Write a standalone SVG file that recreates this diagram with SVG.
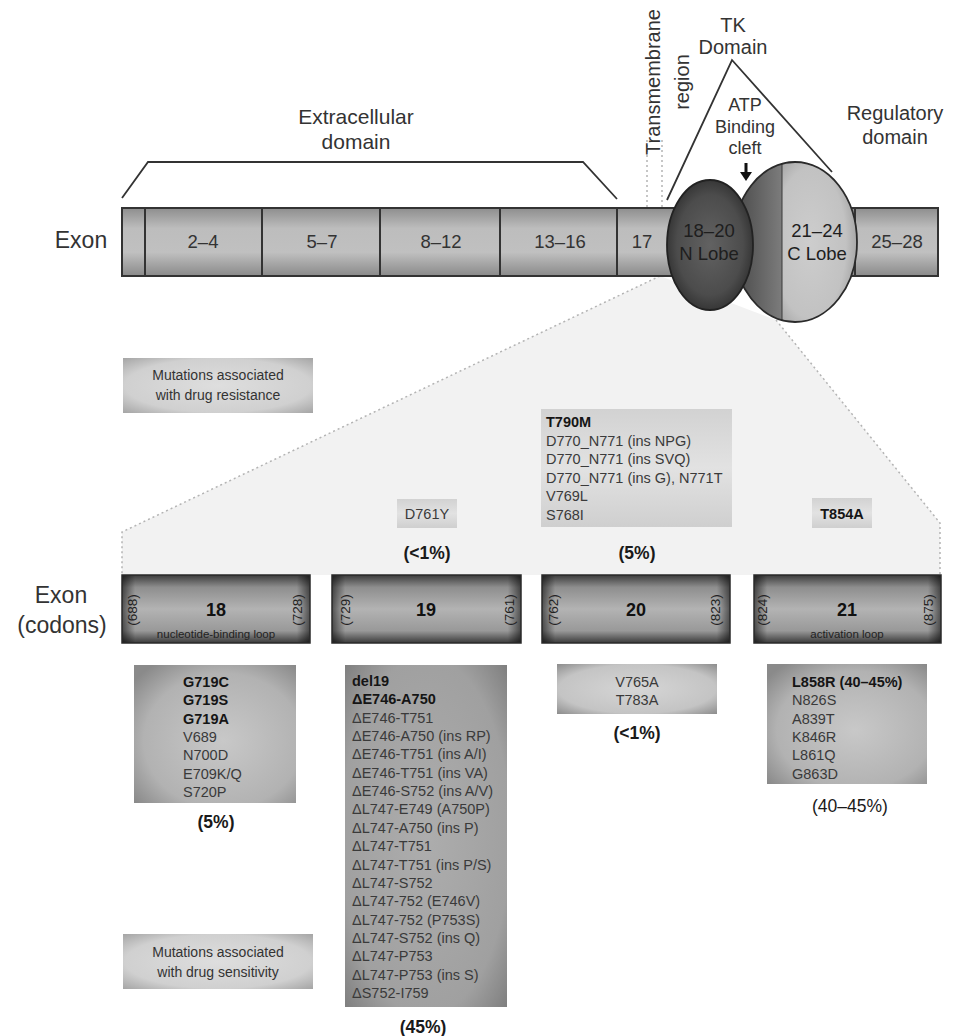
<svg xmlns="http://www.w3.org/2000/svg" width="957" height="1036" viewBox="0 0 957 1036">
  <defs>
    <style>
      text { font-family: "Liberation Sans", Arial, sans-serif; fill: #333; }
      .lbl { font-size: 20px; text-anchor: middle; }
      .seg { font-size: 18.5px; text-anchor: middle; }
      .lobe { font-size: 18.5px; text-anchor: middle; fill: #1e1e1e; }
      .side { font-size: 23px; text-anchor: middle; }
      .mut { font-size: 14.5px; fill: #3a3a3a; }
      .b { font-weight: bold; fill: #151515; }
      .pct { font-size: 17.5px; font-weight: bold; text-anchor: middle; fill: #1a1a1a; }
      .exn { font-size: 18px; font-weight: bold; text-anchor: middle; fill: #111; }
      .sub { font-size: 11.5px; text-anchor: middle; fill: #222; }
      .cod { font-size: 13.5px; text-anchor: middle; fill: #222; }
      .leg { font-size: 14px; text-anchor: middle; fill: #333; }
      .edge { stroke: #333; stroke-width: 2; }
      .dots { fill: none; stroke: #b4b4b4; stroke-width: 1.5; stroke-dasharray: 2 3; }
      .line { fill: none; stroke: #333; stroke-width: 1.8; }
    </style>
    <linearGradient id="barG" x1="0" y1="0" x2="0" y2="1">
      <stop offset="0" stop-color="#8e8e8e"/>
      <stop offset="0.3" stop-color="#bdbdbd"/>
      <stop offset="0.65" stop-color="#c0c0c0"/>
      <stop offset="1" stop-color="#8a8a8a"/>
    </linearGradient>
    <radialGradient id="nLobeG" cx="0.5" cy="0.5" r="0.55">
      <stop offset="0" stop-color="#626262"/>
      <stop offset="0.7" stop-color="#4c4c4c"/>
      <stop offset="1" stop-color="#2e2e2e"/>
    </radialGradient>
    <linearGradient id="cDarkG" x1="0" y1="0" x2="1" y2="0">
      <stop offset="0" stop-color="#444"/>
      <stop offset="1" stop-color="#7c7c7c"/>
    </linearGradient>
    <radialGradient id="cLightG" cx="0.35" cy="0.5" r="0.75">
      <stop offset="0" stop-color="#cdcdcd"/>
      <stop offset="0.6" stop-color="#c2c2c2"/>
      <stop offset="1" stop-color="#888"/>
    </radialGradient>
    <clipPath id="cClip">
      <ellipse cx="795" cy="242" rx="62" ry="80"/>
    </clipPath>
    <linearGradient id="exV" x1="0" y1="0" x2="0" y2="1">
      <stop offset="0" stop-color="#3c3c3c"/>
      <stop offset="0.18" stop-color="#8e8e8e"/>
      <stop offset="0.5" stop-color="#b3b3b3"/>
      <stop offset="0.82" stop-color="#999"/>
      <stop offset="1" stop-color="#3a3a3a"/>
    </linearGradient>
    <linearGradient id="exH" x1="0" y1="0" x2="1" y2="0">
      <stop offset="0" stop-color="#000" stop-opacity="0.55"/>
      <stop offset="0.07" stop-color="#000" stop-opacity="0"/>
      <stop offset="0.93" stop-color="#000" stop-opacity="0"/>
      <stop offset="1" stop-color="#000" stop-opacity="0.55"/>
    </linearGradient>
    <radialGradient id="mutA" cx="0.55" cy="0.55" r="0.7">
      <stop offset="0" stop-color="#c8c8c8"/>
      <stop offset="0.7" stop-color="#b2b2b2"/>
      <stop offset="1" stop-color="#8a8a8a"/>
    </radialGradient>
    <radialGradient id="mutD" cx="0.5" cy="0.5" r="0.7">
      <stop offset="0" stop-color="#adadad"/>
      <stop offset="0.75" stop-color="#a0a0a0"/>
      <stop offset="1" stop-color="#808080"/>
    </radialGradient>
    <radialGradient id="mutL" cx="0.5" cy="0.5" r="0.7">
      <stop offset="0" stop-color="#d6d6d6"/>
      <stop offset="0.7" stop-color="#c4c4c4"/>
      <stop offset="1" stop-color="#8e8e8e"/>
    </radialGradient>
    <radialGradient id="legG" cx="0.5" cy="0.5" r="0.7">
      <stop offset="0" stop-color="#dedede"/>
      <stop offset="0.7" stop-color="#d0d0d0"/>
      <stop offset="1" stop-color="#a6a6a6"/>
    </radialGradient>
    <linearGradient id="resG" x1="0" y1="0" x2="0" y2="1">
      <stop offset="0" stop-color="#d2d2d2"/>
      <stop offset="0.5" stop-color="#e2e2e2"/>
      <stop offset="1" stop-color="#cfcfcf"/>
    </linearGradient>
  </defs>

  <rect width="957" height="1036" fill="#fff"/>

  <!-- enlarged kinase region backdrop -->
  <g id="zoom-region">
    <polygon points="660,276 776,320 940,523 940,575 122,575 122,532" fill="#f2f2f2"/>
    <polyline class="dots" points="660,276 122,532 122,575"/>
    <polyline class="dots" points="776,320 940,523 940,575"/>
  </g>

  <!-- connectors: domain brackets, membrane marks, cleft arrow -->
  <g id="connectors">
    <polyline class="line" points="122,198 148,162 583,162 617,199"/>
    <polyline class="line" points="667,200 732,60 832,172"/>
    <line class="dots" x1="647" y1="140" x2="647" y2="276"/>
    <line class="dots" x1="662" y1="140" x2="662" y2="276"/>
    <line x1="746" y1="163" x2="746" y2="173" stroke="#111" stroke-width="3"/>
    <polygon points="740,172 752,172 746,181" fill="#111"/>
  </g>

  <!-- receptor exon bar -->
  <g id="exon-bar">
    <rect x="122" y="208" width="816" height="68" fill="url(#barG)" class="edge"/>
    <line class="edge" x1="145" y1="208" x2="145" y2="276"/>
    <line class="edge" x1="262" y1="208" x2="262" y2="276"/>
    <line class="edge" x1="380" y1="208" x2="380" y2="276"/>
    <line class="edge" x1="500" y1="208" x2="500" y2="276"/>
    <line class="edge" x1="617" y1="208" x2="617" y2="276"/>
    <line class="edge" x1="855" y1="208" x2="855" y2="276"/>
    <text class="side" x="81" y="248">Exon</text>
    <text class="seg" x="203" y="248">2–4</text>
    <text class="seg" x="322" y="248">5–7</text>
    <text class="seg" x="441" y="248">8–12</text>
    <text class="seg" x="560" y="248">13–16</text>
    <text class="seg" x="642" y="248">17</text>
    <text class="seg" x="897" y="248">25–28</text>
  </g>

  <!-- C lobe -->
  <g id="c-lobe">
    <g clip-path="url(#cClip)">
      <rect x="730" y="160" width="52" height="166" fill="url(#cDarkG)"/>
      <rect x="782" y="160" width="80" height="166" fill="url(#cLightG)"/>
    </g>
    <line x1="782" y1="163" x2="782" y2="321" stroke="#3a3a3a" stroke-width="1"/>
    <ellipse cx="795" cy="242" rx="62" ry="80" fill="none" stroke="#2a2a2a" stroke-width="1.8"/>
    <text class="lobe" x="817" y="237">21–24</text>
    <text class="lobe" x="817" y="260">C Lobe</text>
  </g>

  <!-- N lobe -->
  <g id="n-lobe">
    <ellipse cx="710" cy="245" rx="43" ry="65" fill="url(#nLobeG)" stroke="#222" stroke-width="1.8"/>
    <text class="lobe" x="709" y="237">18–20</text>
    <text class="lobe" x="709" y="260">N Lobe</text>
  </g>

  <!-- domain labels -->
  <g id="domain-labels">
    <text class="lbl" x="356" y="124" style="font-size:21px">Extracellular</text>
    <text class="lbl" x="356" y="149" style="font-size:21px">domain</text>
    <text class="lbl" x="733" y="32">TK</text>
    <text class="lbl" x="733" y="54">Domain</text>
    <text class="lbl" x="745" y="111" style="font-size:18px">ATP</text>
    <text class="lbl" x="745" y="133" style="font-size:18px">Binding</text>
    <text class="lbl" x="745" y="154" style="font-size:18px">cleft</text>
    <text class="lbl" x="895" y="120">Regulatory</text>
    <text class="lbl" x="895" y="144">domain</text>
    <text class="lbl" transform="translate(660,82) rotate(-90)" x="0" y="0">Transmembrane</text>
    <text class="lbl" transform="translate(689,82) rotate(-90)" x="0" y="0">region</text>
  </g>

  <!-- legend boxes -->
  <g id="legend-resistance">
    <rect x="123" y="358" width="190" height="55" fill="url(#legG)"/>
    <text class="leg" x="218" y="380">Mutations associated</text>
    <text class="leg" x="218" y="400">with drug resistance</text>
  </g>
  <g id="legend-sensitivity">
    <rect x="123" y="934" width="190" height="55" fill="url(#legG)"/>
    <text class="leg" x="218" y="957">Mutations associated</text>
    <text class="leg" x="218" y="977">with drug sensitivity</text>
  </g>

  <!-- resistance mutations -->
  <g id="res-19">
    <rect x="397" y="499" width="60" height="29" fill="url(#resG)"/>
    <text class="mut" x="427" y="519" text-anchor="middle">D761Y</text>
    <text class="pct" x="427" y="559">(&lt;1%)</text>
  </g>
  <g id="res-20">
    <rect x="541" y="409" width="191" height="118" fill="url(#resG)"/>
    <text class="mut" x="546" y="427">
      <tspan class="b">T790M</tspan>
      <tspan x="546" dy="18.6">D770_N771 (ins NPG)</tspan>
      <tspan x="546" dy="18.6">D770_N771 (ins SVQ)</tspan>
      <tspan x="546" dy="18.6">D770_N771 (ins G), N771T</tspan>
      <tspan x="546" dy="18.6">V769L</tspan>
      <tspan x="546" dy="18.6">S768I</tspan>
    </text>
    <text class="pct" x="637" y="559">(5%)</text>
  </g>
  <g id="res-21">
    <rect x="812" y="498" width="60" height="30" fill="url(#resG)"/>
    <text class="mut b" x="842" y="519" text-anchor="middle">T854A</text>
  </g>

  <!-- exon (codon) boxes -->
  <text class="side" x="61" y="603">Exon</text>
  <text class="side" x="62" y="633">(codons)</text>

  <g id="exon-18">
    <rect x="122" y="575" width="188" height="68" fill="url(#exV)"/>
    <rect x="122" y="575" width="188" height="68" fill="url(#exH)" stroke="#2a2a2a" stroke-width="1.5"/>
    <text class="exn" x="216" y="616">18</text>
    <text class="sub" x="216" y="638">nucleotide-binding loop</text>
    <text class="cod" transform="translate(137,610) rotate(-90)">(688)</text>
    <text class="cod" transform="translate(302,610) rotate(-90)">(728)</text>
  </g>
  <g id="exon-19">
    <rect x="332" y="575" width="189" height="68" fill="url(#exV)"/>
    <rect x="332" y="575" width="189" height="68" fill="url(#exH)" stroke="#2a2a2a" stroke-width="1.5"/>
    <text class="exn" x="426" y="616">19</text>
    <text class="cod" transform="translate(350,610) rotate(-90)">(729)</text>
    <text class="cod" transform="translate(514,610) rotate(-90)">(761)</text>
  </g>
  <g id="exon-20">
    <rect x="542" y="575" width="188" height="68" fill="url(#exV)"/>
    <rect x="542" y="575" width="188" height="68" fill="url(#exH)" stroke="#2a2a2a" stroke-width="1.5"/>
    <text class="exn" x="636" y="616">20</text>
    <text class="cod" transform="translate(558,610) rotate(-90)">(762)</text>
    <text class="cod" transform="translate(720,610) rotate(-90)">(823)</text>
  </g>
  <g id="exon-21">
    <rect x="754" y="575" width="187" height="68" fill="url(#exV)"/>
    <rect x="754" y="575" width="187" height="68" fill="url(#exH)" stroke="#2a2a2a" stroke-width="1.5"/>
    <text class="exn" x="847" y="616">21</text>
    <text class="sub" x="847" y="638">activation loop</text>
    <text class="cod" transform="translate(767,610) rotate(-90)">(824)</text>
    <text class="cod" transform="translate(933,610) rotate(-90)">(875)</text>
  </g>

  <!-- sensitivity mutations -->
  <g id="sens-18">
    <rect x="134" y="665" width="162" height="138" fill="url(#mutA)"/>
    <text class="mut" x="183" y="687">
      <tspan class="b">G719C</tspan>
      <tspan class="b" x="183" dy="18.3">G719S</tspan>
      <tspan class="b" x="183" dy="18.3">G719A</tspan>
      <tspan x="183" dy="18.3">V689</tspan>
      <tspan x="183" dy="18.3">N700D</tspan>
      <tspan x="183" dy="18.3">E709K/Q</tspan>
      <tspan x="183" dy="18.3">S720P</tspan>
    </text>
    <text class="pct" x="216" y="828">(5%)</text>
  </g>
  <g id="sens-19">
    <rect x="345" y="665" width="162" height="342" fill="url(#mutD)"/>
    <text class="mut" x="352" y="686">
      <tspan class="b">del19</tspan>
      <tspan class="b" x="352" dy="18.35">ΔE746-A750</tspan>
      <tspan x="352" dy="18.35">ΔE746-T751</tspan>
      <tspan x="352" dy="18.35">ΔE746-A750 (ins RP)</tspan>
      <tspan x="352" dy="18.35">ΔE746-T751 (ins A/I)</tspan>
      <tspan x="352" dy="18.35">ΔE746-T751 (ins VA)</tspan>
      <tspan x="352" dy="18.35">ΔE746-S752 (ins A/V)</tspan>
      <tspan x="352" dy="18.35">ΔL747-E749 (A750P)</tspan>
      <tspan x="352" dy="18.35">ΔL747-A750 (ins P)</tspan>
      <tspan x="352" dy="18.35">ΔL747-T751</tspan>
      <tspan x="352" dy="18.35">ΔL747-T751 (ins P/S)</tspan>
      <tspan x="352" dy="18.35">ΔL747-S752</tspan>
      <tspan x="352" dy="18.35">ΔL747-752 (E746V)</tspan>
      <tspan x="352" dy="18.35">ΔL747-752 (P753S)</tspan>
      <tspan x="352" dy="18.35">ΔL747-S752 (ins Q)</tspan>
      <tspan x="352" dy="18.35">ΔL747-P753</tspan>
      <tspan x="352" dy="18.35">ΔL747-P753 (ins S)</tspan>
      <tspan x="352" dy="18.35">ΔS752-I759</tspan>
    </text>
    <text class="pct" x="423" y="1033">(45%)</text>
  </g>
  <g id="sens-20">
    <rect x="557" y="664" width="160" height="50" fill="url(#mutL)"/>
    <text class="mut" x="637" y="687" text-anchor="middle">V765A</text>
    <text class="mut" x="637" y="705" text-anchor="middle">T783A</text>
    <text class="pct" x="637" y="739">(&lt;1%)</text>
  </g>
  <g id="sens-21">
    <rect x="767" y="664" width="160" height="120" fill="url(#mutA)"/>
    <text class="mut" x="792" y="687">
      <tspan class="b">L858R (40–45%)</tspan>
      <tspan x="792" dy="18.3">N826S</tspan>
      <tspan x="792" dy="18.3">A839T</tspan>
      <tspan x="792" dy="18.3">K846R</tspan>
      <tspan x="792" dy="18.3">L861Q</tspan>
      <tspan x="792" dy="18.3">G863D</tspan>
    </text>
    <text class="pct" x="850" y="812" style="font-weight:normal">(40–45%)</text>
  </g>
</svg>
